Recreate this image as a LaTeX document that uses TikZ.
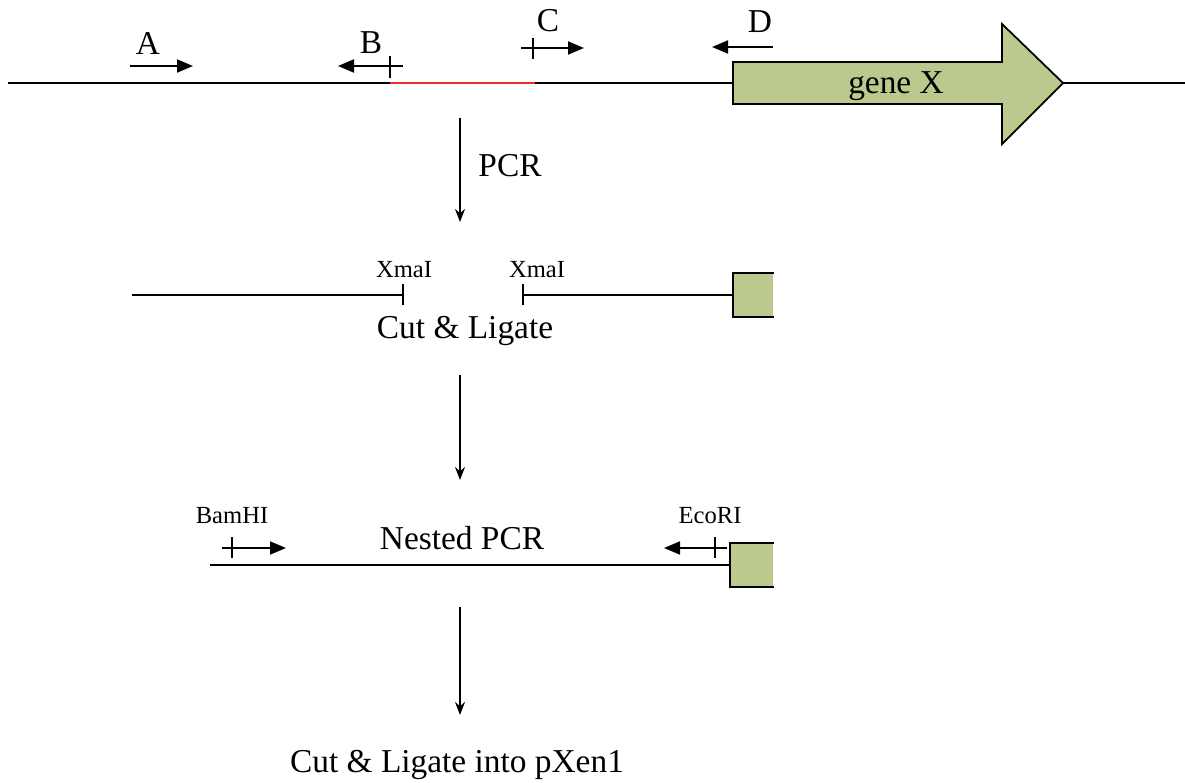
\documentclass[tikz,border=0pt]{standalone}
\usepackage{fontspec}
\setmainfont{Liberation Serif}
\usetikzlibrary{arrows.meta,calc}
\definecolor{genefill}{RGB}{187,201,143}
\definecolor{hitred}{RGB}{236,42,52}
\tikzset{
  dna/.style={line width=1.1pt},
  primer/.style={line width=1.1pt,-{Triangle[length=3.2mm,width=2.6mm]}},
  cutmark/.style={line width=1.1pt},
  stepflow/.style={line width=0.8pt,-{Stealth[length=2.6mm,width=2mm]}},
  big/.style={font=\fontsize{19}{22}\selectfont,inner sep=0pt},
  small/.style={font=\fontsize{14}{16}\selectfont,inner sep=0pt},
  stub/.style={fill=genefill,minimum width=0.8cm,minimum height=0.86cm,inner sep=0pt,anchor=west}
}
\begin{document}
\begin{tikzpicture}[x=0.02cm,y=-0.02cm]
\useasboundingbox (0,0) rectangle (1185,783);
% genomic locus
\coordinate (l0) at (8,83);
\coordinate (r0) at (1185,83);
\coordinate (h1) at (390,83);
\coordinate (h2) at (535,83);
\coordinate (g0) at (733,83);
\coordinate (g1) at (1063,83);
\draw[dna] (l0) -- (h1);
\draw[dna] (h2) -- (g0);
\draw[dna] (g1) -- (r0);
\draw[line width=1.6pt,hitred] (h1) -- (h2);
\draw[line width=1pt,fill=genefill] (733,62) -- (1002,62) -- (1002,24) -- (g1) -- (1002,144) -- (1002,104) -- (733,104) -- cycle;
\node[big] (genex) at (896,86) {gene X};
% primers
\coordinate (a1) at (130,66); \coordinate (a2) at (193,66);
\coordinate (b1) at (403,66); \coordinate (b2) at (338,66);
\coordinate (c1) at (521,48); \coordinate (c2) at (584,48);
\coordinate (d1) at (773,47); \coordinate (d2) at (712,47);
\draw[primer] (a1) -- (a2);
\draw[primer] (b1) -- (b2);
\draw[primer] (c1) -- (c2);
\draw[primer] (d1) -- (d2);
\draw[cutmark] (390,56) -- (390,78);
\draw[cutmark] (533,38) -- (533,59);
\node[big] (pa) at (148,43) {A};
\node[big] (pb) at (371,43) {B};
\node[big] (pc) at (548,21) {C};
\node[big] (pd) at (760,22) {D};
% PCR
\coordinate (s1a) at (460,118); \coordinate (s1b) at (460,222);
\draw[stepflow] (s1a) -- (s1b);
\node[big] (pcr) at (510,166) {PCR};
% PCR products
\coordinate (f1) at (132,295); \coordinate (x1) at (403,295);
\coordinate (x2) at (523,295);
\node[stub] (box1) at (733,295) {};
\draw[dna] (f1) -- (x1);
\draw[dna] (x2) -- (box1.west);
\draw[cutmark] (x1) ++(0,-11) -- ++(0,21);
\draw[cutmark] (x2) ++(0,-11) -- ++(0,21);
\draw[line width=1pt] (box1.north east) -- (box1.north west) -- (box1.south west) -- (box1.south east);
\node[small] (xma1) at (404,270) {XmaI};
\node[small] (xma2) at (537,270) {XmaI};
\node[big] (cut1) at (465,331) {Cut \& Ligate};
\coordinate (s2a) at (460,375); \coordinate (s2b) at (460,480);
\draw[stepflow] (s2a) -- (s2b);
% nested PCR
\coordinate (n1) at (210,565);
\node[stub,minimum width=0.86cm] (box2) at (730,565) {};
\draw[dna] (n1) -- (box2.west);
\draw[line width=1pt] (box2.north east) -- (box2.north west) -- (box2.south west) -- (box2.south east);
\coordinate (e1) at (222,548); \coordinate (e2) at (286,548);
\coordinate (e3) at (727,548); \coordinate (e4) at (664,548);
\draw[primer] (e1) -- (e2);
\draw[primer] (e3) -- (e4);
\draw[cutmark] (232,537) -- (232,558);
\draw[cutmark] (715,537) -- (715,558);
\node[small] (bam) at (232,516) {BamHI};
\node[small] (eco) at (710,516) {EcoRI};
\node[big] (nest) at (462,538) {Nested PCR};
\coordinate (s3a) at (460,607); \coordinate (s3b) at (460,715);
\draw[stepflow] (s3a) -- (s3b);
\node[big] (final) at (457,765) {Cut \& Ligate into pXen1};
\end{tikzpicture}
\end{document}
